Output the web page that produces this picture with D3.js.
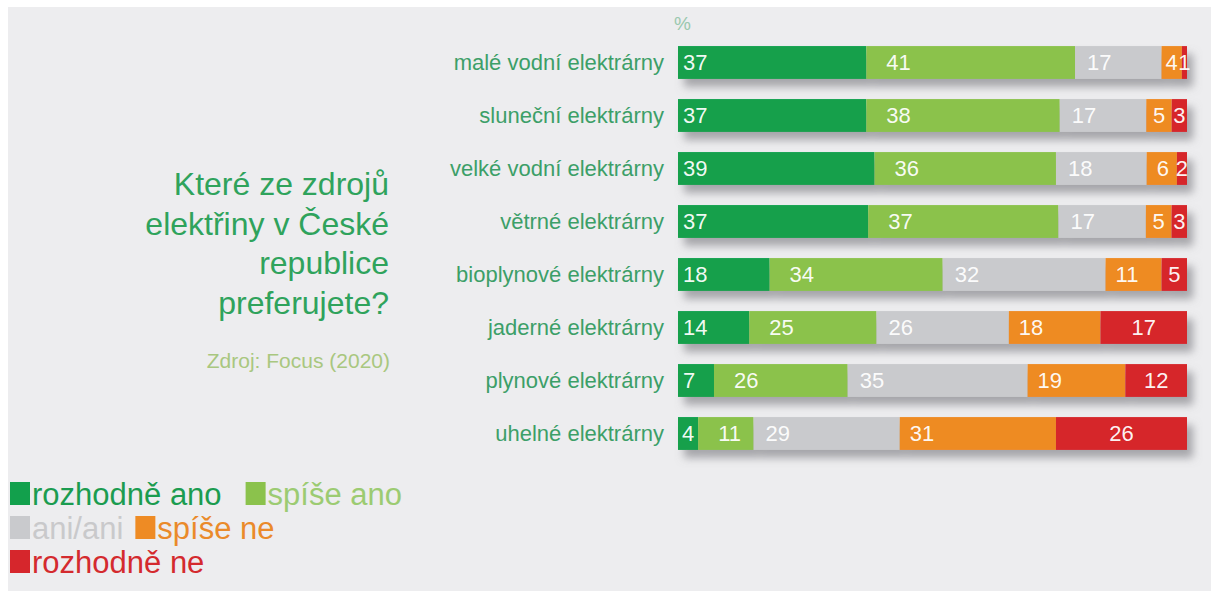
<!DOCTYPE html>
<html>
<head>
<meta charset="utf-8">
<script src="https://cdn.jsdelivr.net/npm/d3@7"></script>
<style>
  html, body { margin: 0; padding: 0; background: #ffffff; }
  svg { display: block; }
  text { font-family: "Liberation Sans", Arial, sans-serif; }
</style>
</head>
<body>
<svg id="chart" width="1211" height="591"></svg>
<script>
// Survey: preferred electricity sources in the Czech Republic (Focus, 2020), answers in %
const categories = [
  "malé vodní elektrárny",
  "sluneční elektrárny",
  "velké vodní elektrárny",
  "větrné elektrárny",
  "bioplynové elektrárny",
  "jaderné elektrárny",
  "plynové elektrárny",
  "uhelné elektrárny"
];
const answers = ["rozhodně ano", "spíše ano", "ani/ani", "spíše ne", "rozhodně ne"];
const rozhodneAno = [37, 37, 39, 37, 18, 14, 7, 4];
const spiseAno    = [41, 38, 36, 37, 34, 25, 26, 11];
const aniAni      = [17, 17, 18, 17, 32, 26, 35, 29];
const spiseNe     = [4, 5, 6, 5, 11, 18, 19, 31];
const rozhodneNe  = [1, 3, 2, 3, 5, 17, 12, 26];
const series = [rozhodneAno, spiseAno, aniAni, spiseNe, rozhodneNe];

const titleLines = ["Které ze zdrojů", "elektřiny v České", "republice", "preferujete?"];
const sourceText = "Zdroj: Focus (2020)";
const unitLabel = "%";

// styling
const colors = ["#12a04c", "#8bc24c", "#c9cacd", "#ee8b24", "#d6262c"];
const legendTextColors = ["#1b9c50", "#9ccb72", "#c9c9cb", "#ea8a2a", "#d42a2e"];
const labelPad = [5, 20, 12, 10, 10];

const svg = d3.select("#chart");
const W = 1211, H = 591;

svg.append("rect").attr("width", W).attr("height", H).attr("fill", "#ffffff");
svg.append("rect").attr("x", 8).attr("y", 7).attr("width", W - 8).attr("height", H - 7).attr("fill", "#ededef");

const defs = svg.append("defs");
const f = defs.append("filter").attr("id", "barShadow")
  .attr("x", "-5%").attr("y", "-30%").attr("width", "115%").attr("height", "200%");
f.append("feDropShadow").attr("dx", 6).attr("dy", 8).attr("stdDeviation", 4)
  .attr("flood-color", "#77777b").attr("flood-opacity", 0.6);

// scales
const x = d3.scaleLinear().domain([0, 1]).range([678, 1187]);
const y = d3.scaleBand().domain(categories).range([36, 460]).paddingInner(0.38).paddingOuter(0.19);

// stacked shares, each bar normalised to its own total
const rows = categories.map((c, i) => {
  const vals = series.map(s => s[i]);
  const total = d3.sum(vals);
  let acc = 0;
  return {
    cat: c,
    segs: vals.map((v, k) => {
      const s = { k, v, x0: acc / total, x1: (acc + v) / total };
      acc += v;
      return s;
    })
  };
});

const barG = svg.append("g");
const rowG = barG.selectAll("g.row").data(rows).join("g")
  .attr("class", "row")
  .attr("transform", d => `translate(0,${y(d.cat)})`);

const segG = rowG.append("g").attr("filter", "url(#barShadow)");
segG.selectAll("rect").data(d => d.segs).join("rect")
  .attr("x", d => x(d.x0))
  .attr("width", d => x(d.x1) - x(d.x0))
  .attr("y", 0)
  .attr("height", y.bandwidth())
  .attr("fill", d => colors[d.k]);

// value labels
rowG.selectAll("text.val").data(d => d.segs).join("text")
  .attr("class", "val")
  .attr("y", y.bandwidth() / 2 + 8)
  .attr("fill", "#ffffff")
  .attr("fill-opacity", 0.95)
  .attr("font-size", 22)
  .text(d => d.v)
  .each(function(d) {
    const t = d3.select(this);
    const w = x(d.x1) - x(d.x0);
    const tw = this.getComputedTextLength();
    if (d.k === 4 || w < tw + labelPad[d.k] + 6) {
      t.attr("x", (x(d.x0) + x(d.x1)) / 2).attr("text-anchor", "middle");
    } else {
      t.attr("x", x(d.x0) + labelPad[d.k]).attr("text-anchor", "start");
    }
  });

// category axis
const yAxis = d3.axisLeft(y).tickSize(0).tickPadding(14);
const ax = svg.append("g").attr("transform", "translate(678,0)").call(yAxis);
ax.select(".domain").remove();
ax.selectAll("text")
  .attr("font-family", "'Liberation Sans', Arial, sans-serif")
  .attr("font-size", 22)
  .attr("dy", "0.33em")
  .attr("fill", "#3c9f68");

// unit
svg.append("text").attr("x", 674).attr("y", 30).attr("font-size", 19)
  .attr("fill", "#9ac8ae").text(unitLabel);

// title block
const title = svg.append("g");
title.selectAll("text").data(titleLines).join("text")
  .attr("x", 389)
  .attr("y", (d, i) => 195 + i * 39.5)
  .attr("text-anchor", "end")
  .attr("font-size", 32)
  .attr("fill", "#2fa35c")
  .text(d => d);
svg.append("text")
  .attr("x", 390).attr("y", 368)
  .attr("text-anchor", "end")
  .attr("font-size", 21)
  .attr("fill", "#a9c77f")
  .text(sourceText);

// legend
const legendRows = [[0, 1], [2, 3], [4]];
const legendGap = [24, 12, 12];
const legendY = [505, 539, 573];
const legend = svg.append("g");
legendRows.forEach((ks, r) => {
  let cx = 10;
  ks.forEach(k => {
    legend.append("rect").attr("x", cx).attr("y", legendY[r] - 23)
      .attr("width", 20).attr("height", 23).attr("fill", colors[k]);
    const t = legend.append("text").attr("x", cx + 22).attr("y", legendY[r])
      .attr("font-size", 31).attr("fill", legendTextColors[k]).text(answers[k]);
    cx += 22 + t.node().getComputedTextLength() + legendGap[r];
  });
});
</script>
</body>
</html>
